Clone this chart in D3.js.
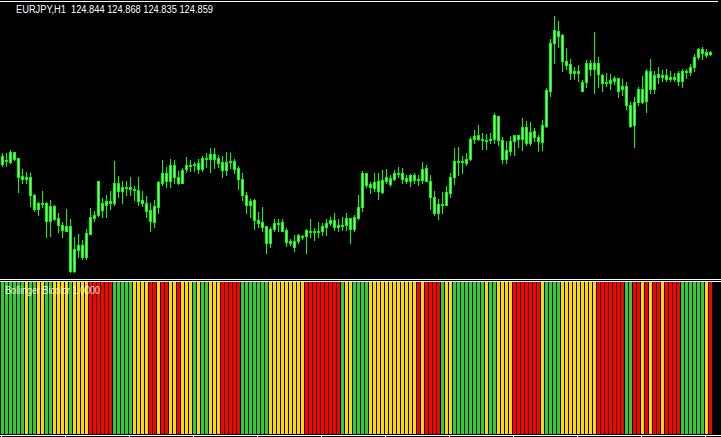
<!DOCTYPE html>
<html>
<head>
<meta charset="utf-8">
<script src="https://cdn.jsdelivr.net/npm/d3@7"></script>
<style>
  html, body { margin: 0; padding: 0; background: #000; overflow: hidden; }
  #main-container { width: 721px; height: 437px; }
  svg { display: block; }
</style>
</head>
<body>
<div id="main-container"></div>
<script>
// EURJPY H1 candles, oldest first
var symbol = "EURJPY,H1";
var openP = [
  123.74,123.77,123.76,123.86,123.80,123.62,123.59,123.61,123.43,123.29,
  123.35,123.35,123.17,123.32,123.20,123.13,123.07,123.12,122.67,122.88,
  122.93,122.81,123.04,123.20,123.23,123.28,123.33,123.37,123.35,123.55,
  123.47,123.51,123.49,123.49,123.48,123.38,123.35,123.28,123.16,123.31,
  123.55,123.65,123.57,123.73,123.61,123.55,123.69,123.73,123.73,123.75,
  123.69,123.80,123.79,123.84,123.80,123.76,123.68,123.76,123.77,123.70,
  123.59,123.43,123.33,123.38,123.18,123.16,123.12,122.95,123.09,123.15,
  123.16,123.08,122.97,122.97,122.97,123.02,123.02,123.07,123.06,123.07,
  123.07,123.11,123.15,123.18,123.11,123.13,123.13,123.20,123.09,123.20,
  123.31,123.65,123.54,123.50,123.57,123.46,123.57,123.60,123.59,123.65,
  123.65,123.60,123.57,123.63,123.58,123.58,123.70,123.57,123.41,123.25,
  123.34,123.33,123.45,123.61,123.77,123.76,123.75,123.79,123.99,124.03,
  123.99,123.98,123.98,123.99,124.22,123.98,123.79,123.87,123.97,124.03,
  123.99,124.11,123.95,124.07,124.01,123.96,124.12,124.47,124.95,125.07,
  125.03,124.77,124.74,124.65,124.67,124.56,124.56,124.75,124.69,124.75,
  124.63,124.55,124.55,124.57,124.60,124.49,124.52,124.33,124.13,124.36,
  124.49,124.37,124.67,124.49,124.64,124.61,124.63,124.59,124.61,124.57,
  124.67,124.66,124.66,124.71,124.81,124.89,124.86,124.844
];
var highP = [
  123.85,123.85,123.88,123.86,123.80,123.69,123.66,123.65,123.44,123.36,
  123.47,123.36,123.38,123.33,123.25,123.16,123.29,123.19,123.01,123.04,
  122.98,123.09,123.30,123.27,123.57,123.40,123.43,123.47,123.77,123.62,
  123.57,123.57,123.61,123.52,123.61,123.47,123.42,123.35,123.38,123.57,
  123.78,123.71,123.79,123.78,123.67,123.70,123.81,123.78,123.76,123.79,
  123.82,123.85,123.90,123.90,123.83,123.82,123.86,123.85,123.79,123.72,
  123.65,123.46,123.39,123.39,123.26,123.31,123.12,123.11,123.19,123.19,
  123.19,123.10,122.99,123.03,123.04,123.03,123.09,123.19,123.10,123.16,
  123.15,123.19,123.21,123.25,123.19,123.21,123.25,123.20,123.23,123.43,
  123.67,123.65,123.56,123.65,123.65,123.68,123.69,123.63,123.68,123.71,
  123.70,123.63,123.64,123.65,123.63,123.76,123.73,123.63,123.47,123.39,
  123.46,123.52,123.65,123.90,123.91,123.82,123.85,124.01,124.08,124.13,
  124.05,124.04,124.05,124.25,124.22,124.01,123.97,124.02,124.03,124.03,
  124.20,124.17,124.16,124.10,124.03,124.18,124.50,124.99,125.22,125.17,
  125.04,124.90,124.79,124.71,124.73,124.58,124.78,124.78,125.06,124.81,
  124.64,124.65,124.64,124.62,124.60,124.59,124.56,124.36,124.41,124.51,
  124.62,124.69,124.79,124.67,124.71,124.68,124.69,124.67,124.65,124.67,
  124.69,124.69,124.74,124.84,124.90,124.91,124.89,124.868
];
var lowP = [
  123.72,123.72,123.75,123.78,123.46,123.55,123.55,123.32,123.27,123.23,
  123.31,123.01,123.02,123.18,123.06,123.01,123.07,122.66,122.66,122.81,
  122.79,122.79,123.04,123.17,123.22,123.21,123.21,123.29,123.33,123.41,
  123.35,123.43,123.43,123.38,123.33,123.32,123.21,123.07,123.11,123.25,
  123.53,123.51,123.51,123.55,123.54,123.55,123.66,123.67,123.67,123.65,
  123.67,123.71,123.66,123.70,123.71,123.61,123.63,123.70,123.65,123.49,
  123.38,123.25,123.21,123.09,123.11,123.07,122.85,122.91,123.07,123.07,
  123.07,122.92,122.93,122.87,122.95,122.99,122.85,123.01,122.98,123.01,
  123.03,123.03,123.13,123.08,123.07,123.08,123.08,122.95,123.07,123.19,
  123.27,123.51,123.45,123.47,123.39,123.45,123.55,123.52,123.58,123.61,
  123.55,123.55,123.52,123.55,123.53,123.55,123.57,123.29,123.23,123.19,
  123.25,123.33,123.41,123.54,123.63,123.65,123.73,123.78,123.95,123.98,
  123.89,123.89,123.95,123.95,123.93,123.75,123.75,123.83,123.83,123.91,
  123.88,123.93,123.93,123.97,123.87,123.88,124.11,124.42,124.75,124.91,
  124.67,124.69,124.59,124.59,124.57,124.47,124.51,124.63,124.45,124.51,
  124.47,124.52,124.49,124.54,124.41,124.43,124.29,124.11,123.91,124.33,
  124.35,124.26,124.45,124.45,124.55,124.57,124.57,124.57,124.57,124.53,
  124.51,124.60,124.63,124.67,124.79,124.79,124.81,124.835
];
var closeP = [
  123.82,123.78,123.86,123.79,123.61,123.59,123.61,123.43,123.29,123.35,
  123.34,123.17,123.32,123.19,123.13,123.08,123.12,122.67,122.89,122.93,
  122.81,123.05,123.21,123.23,123.57,123.35,123.37,123.35,123.55,123.47,
  123.51,123.50,123.51,123.48,123.37,123.35,123.27,123.17,123.32,123.56,
  123.65,123.57,123.73,123.61,123.55,123.68,123.73,123.72,123.74,123.69,
  123.80,123.79,123.84,123.79,123.75,123.68,123.76,123.77,123.69,123.59,
  123.43,123.33,123.37,123.18,123.15,123.11,122.95,123.09,123.15,123.14,
  123.07,122.96,122.95,122.91,123.03,123.01,123.08,123.06,123.07,123.06,
  123.12,123.15,123.18,123.11,123.13,123.12,123.20,123.09,123.21,123.31,
  123.65,123.53,123.51,123.56,123.47,123.58,123.61,123.54,123.65,123.64,
  123.59,123.57,123.63,123.58,123.59,123.69,123.57,123.41,123.25,123.34,
  123.33,123.46,123.61,123.77,123.76,123.77,123.79,123.99,124.02,123.99,
  123.98,123.97,123.99,124.23,123.98,123.79,123.88,123.97,124.03,123.99,
  124.11,123.95,124.06,124.01,123.97,124.13,124.48,124.95,125.08,125.02,
  124.77,124.73,124.65,124.67,124.65,124.47,124.75,124.69,124.75,124.64,
  124.55,124.56,124.58,124.60,124.47,124.52,124.33,124.12,124.36,124.49,
  124.36,124.67,124.49,124.63,124.61,124.63,124.59,124.61,124.59,124.65,
  124.57,124.67,124.71,124.81,124.89,124.85,124.83,124.859
];

// Bollinger Bicolor state per bar: G = green, Y = yellow, R = red
var bandState = ("GGGGGG Y GG YY GG YYYY G YYYY RRRRRR GGGGG YYYY RR Y RR YY R YYY G Y GG YYY RRRRR " +
                 "GGGGGGG YYYYYYYYY RRRRRRRRR G YY GGGG YYYYYYYYYYYY R Y RRRR G YY GGGGGGGG Y GG YYYY " +
                 "RRRRRRR Y GGGG YYYYYYYYY RRRRRRR GG RR Y R Y RR Y RRRR GGGGGG Y R").replace(/ /g, "").split("");
var stateColors = { G: "#32cd32", Y: "#ffd700", R: "#ff0000" };
var indicatorName = "Bollinger Bicolor 1.0000";

// time axis marks every 16 bars
var timeTicks = [0, 16, 32, 48, 64, 80, 96, 112, 128, 144, 160, 176];

var width = 721, height = 437;
var nBars = closeP.length;

var svg = d3.select("#main-container")
            .append("svg")
            .attr("width", width)
            .attr("height", height)
            .style("background", "#000");

var x = d3.scaleLinear().domain([0, nBars]).range([1, 1 + 4 * nBars]);   // left edge of each bar slot
var y = d3.scaleLinear().domain([122.60, 125.38]).range([278, 0]);

// window frames
svg.append("line").attr("x1", 0).attr("x2", 718).attr("y1", 1.5).attr("y2", 1.5)
   .attr("stroke", "#fff").attr("stroke-width", 1);
svg.append("line").attr("x1", 0).attr("x2", width).attr("y1", 279.5).attr("y2", 279.5)
   .attr("stroke", "#fff").attr("stroke-width", 1);
svg.append("line").attr("x1", 0).attr("x2", width).attr("y1", 281.5).attr("y2", 281.5)
   .attr("stroke", "#fff").attr("stroke-width", 1);

// candles
var idx = d3.range(nBars);
var candles = svg.append("g").attr("class", "candles");

candles.selectAll("line.wick")
    .data(idx)
    .enter()
    .append("line")
    .attr("class", "wick")
    .attr("x1", function(i) { return x(i) + 1.5; })
    .attr("x2", function(i) { return x(i) + 1.5; })
    .attr("y1", function(i) { return Math.round(y(highP[i])); })
    .attr("y2", function(i) { return Math.round(y(lowP[i])) + 1; })
    .attr("stroke", "#00ff00")
    .attr("stroke-width", 1);

function bodyTop(i) { return Math.round(y(Math.max(openP[i], closeP[i]))); }
function bodyBot(i) { return Math.round(y(Math.min(openP[i], closeP[i]))); }

candles.selectAll("rect.body")
    .data(idx)
    .enter()
    .append("rect")
    .attr("class", "body")
    .attr("x", function(i) { return x(i); })
    .attr("width", 3)
    .attr("y", function(i) { return bodyTop(i); })
    .attr("height", function(i) { return Math.max(1, bodyBot(i) - bodyTop(i) + 1); })
    .attr("fill", "#00ff00");

// lighter centre line inside every body
candles.selectAll("rect.inner")
    .data(idx.filter(function(i) { return bodyBot(i) - bodyTop(i) >= 2; }))
    .enter()
    .append("rect")
    .attr("class", "inner")
    .attr("x", function(i) { return x(i) + 1; })
    .attr("width", 1)
    .attr("y", function(i) { return bodyTop(i) + 1; })
    .attr("height", function(i) { return bodyBot(i) - bodyTop(i) - 1; })
    .attr("fill", "#8cff8c");

// header
svg.append("text")
   .attr("x", 16)
   .attr("y", 13)
   .attr("textLength", 197)
   .attr("lengthAdjust", "spacingAndGlyphs")
   .attr("font-family", "Liberation Sans, Arial, sans-serif")
   .attr("font-size", "10px")
   .attr("fill", "#fff")
   .text(symbol + "  " + openP[nBars - 1].toFixed(3) + " " + highP[nBars - 1].toFixed(3) + " " +
         lowP[nBars - 1].toFixed(3) + " " + closeP[nBars - 1].toFixed(3))
   .style("white-space", "pre");

// indicator histogram
svg.append("g")
   .selectAll("rect")
   .data(bandState)
   .enter()
   .append("rect")
   .attr("x", function(d, i) { return x(i); })
   .attr("y", 282)
   .attr("width", 3)
   .attr("height", 152)
   .attr("fill", function(d) { return stateColors[d]; });

svg.append("text")
   .attr("x", 5)
   .attr("y", 294)
   .attr("textLength", 95)
   .attr("lengthAdjust", "spacingAndGlyphs")
   .attr("font-family", "Liberation Sans, Arial, sans-serif")
   .attr("font-size", "10.5px")
   .attr("fill", "#fff")
   .attr("fill-opacity", 0.9)
   .text(indicatorName);

// bottom time axis (labels fall below the visible area)
svg.append("line").attr("x1", 0).attr("x2", width).attr("y1", 435.5).attr("y2", 435.5)
   .attr("stroke", "#fff").attr("stroke-width", 1);

var axis = svg.append("g")
   .attr("transform", "translate(0,435)")
   .call(d3.axisBottom(x).tickValues(timeTicks).tickSize(3).tickSizeOuter(0).tickFormat(""));
axis.select(".domain").remove();
axis.selectAll("line").attr("stroke", "#fff");
</script>
</body>
</html>
